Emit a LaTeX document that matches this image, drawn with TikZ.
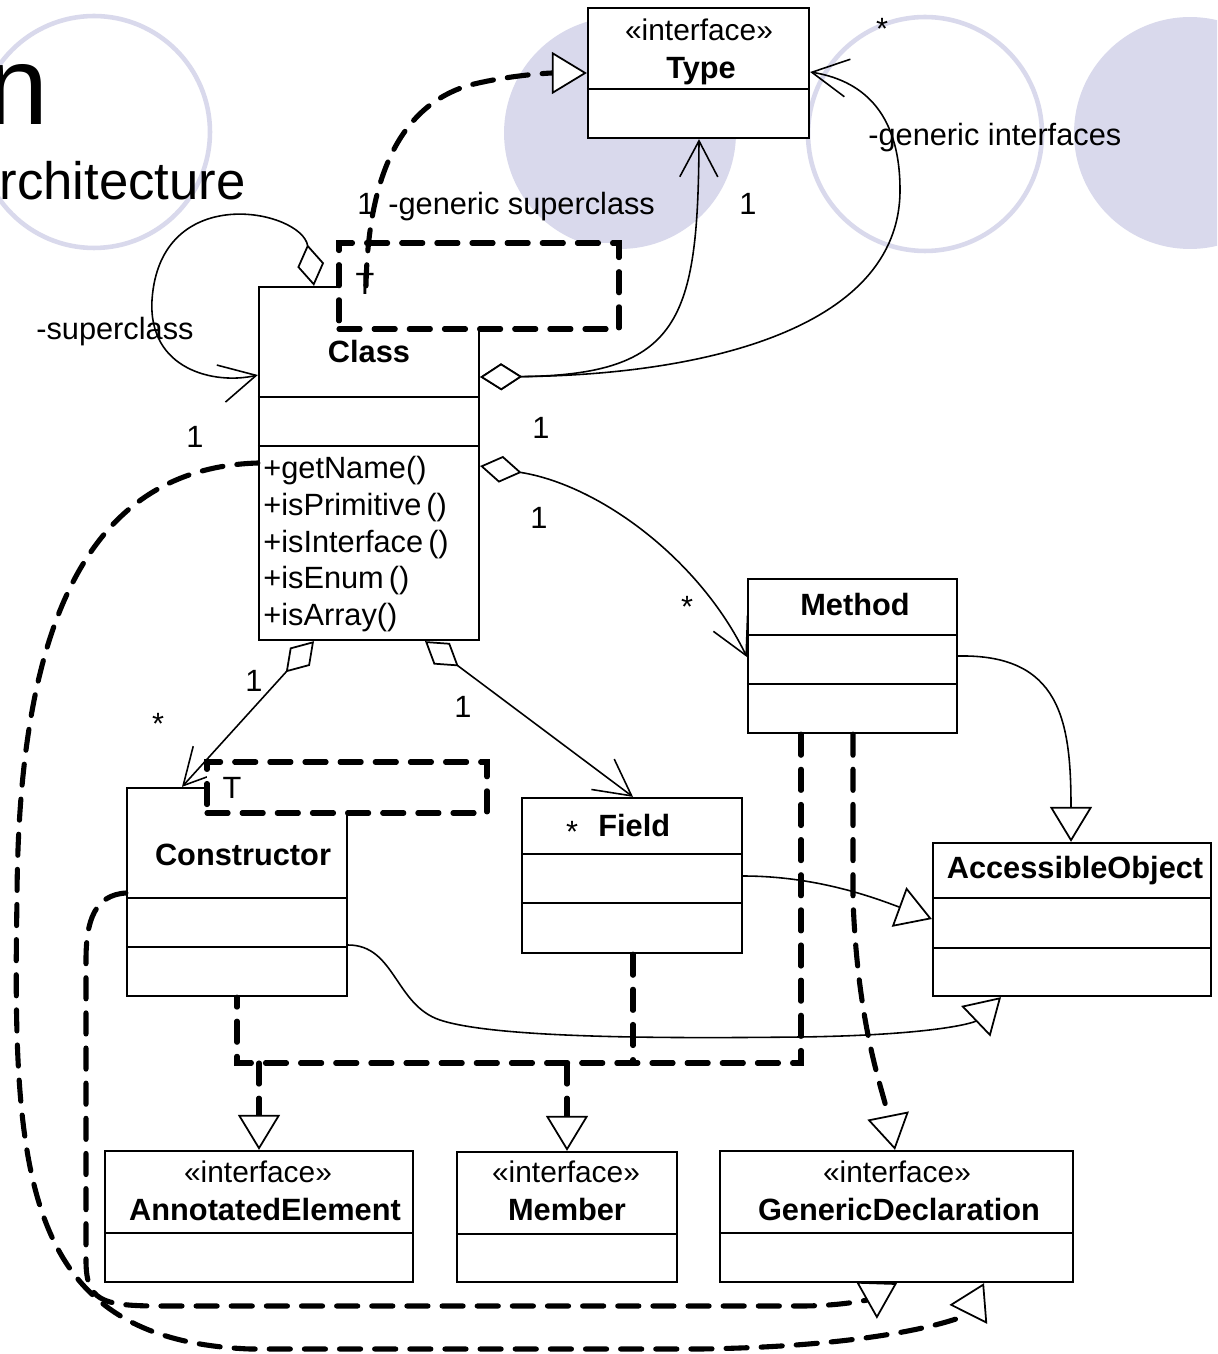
\documentclass[tikz,border=0pt]{standalone}
\usepackage{fontspec}
\setmainfont{Liberation Sans}
\usetikzlibrary{arrows.meta,fit}
\definecolor{lav}{RGB}{217,217,236}
\begin{document}
\begin{tikzpicture}[x=0.02cm,y=-0.02cm,
  box/.style={draw, fill=white, line width=1.3pt, inner sep=0pt},
  tmpl/.style={draw, fill=white, line width=2.9pt, dash pattern=on 12pt off 8pt, line cap=round, inner sep=0pt},
  txt/.style={font=\fontsize{17.5}{21}\selectfont, inner sep=0pt, anchor=base},
  txtw/.style={txt, anchor=base west},
  cname/.style={font=\fontsize{17.5}{21}\selectfont\bfseries, inner sep=0pt, anchor=base},
  stereo/.style={font=\fontsize{17}{20}\selectfont, inner sep=0pt, anchor=base},
  thinl/.style={line width=0.9pt},
  divl/.style={line width=1.3pt},
  dep/.style={line width=2.9pt, dash pattern=on 12pt off 8pt, line cap=round},
  gentip/.style={-{Triangle[length=0.7cm,width=0.84cm,fill=white,line width=1pt]}},
  aggassoc/.style={{Diamond[length=0.84cm,width=0.54cm,fill=white,line width=1pt]}-{Straight Barb[length=0.72cm,width=0.76cm]}},
]
\useasboundingbox (0,0) rectangle (1217,1354);
\clip (0,0) rectangle (1217,1354);
\fill[white] (0,0) rectangle (1217,1354);

% background circles
\draw[lav, line width=2.6pt] (94,132) circle[radius=2.32cm];
\fill[lav] (620,133) circle[radius=2.32cm];
\draw[lav, line width=2.6pt] (925,134) circle[radius=2.34cm];
\fill[lav] (1190,133) circle[radius=2.32cm];

% background title fragments
\node[font=\fontsize{63.5}{70}\selectfont, inner sep=0pt, anchor=base east] (bigN) at (49,125) {n};
\node[font=\fontsize{30}{36}\selectfont, inner sep=0pt, anchor=base east] (archi) at (246,200) {rchitecture};

% boxes
\node[box, fit={(588,8) (809,138)}] (type) {};
\draw[divl] (type.west |- 0,89) -- (type.east |- 0,89);
\node[stereo] (typeS) at (699,41) {«interface»};
\node[cname] (typeN) at (701,79) {Type};

\node[box, fit={(259,287) (479,640)}] (class) {};
\draw[divl] (class.west |- 0,397) -- (class.east |- 0,397);
\draw[divl] (class.west |- 0,446) -- (class.east |- 0,446);
\node[cname] (classN) at (369,362) {Class};
\node[txtw] (m1) at (263,478) {+getName()};
\node[txtw] (m2) at (263,515) {+isPrimitive\,()};
\node[txtw] (m3) at (263,552) {+isInterface\,()};
\node[txtw] (m4) at (263,588) {+isEnum\,()};
\node[txtw] (m5) at (263,625) {+isArray()};

\node[box, fit={(748,579) (957,733)}] (method) {};
\draw[divl] (method.west |- 0,635) -- (method.east |- 0,635);
\draw[divl] (method.west |- 0,684) -- (method.east |- 0,684);
\node[cname] (methodN) at (855,615) {Method};

\node[box, fit={(522,798) (742,953)}] (field) {};
\draw[divl] (field.west |- 0,854) -- (field.east |- 0,854);
\draw[divl] (field.west |- 0,903) -- (field.east |- 0,903);
\node[cname, anchor=base west] (fieldN) at (598,836) {Field};
\node[txt] (fieldStar) at (572,842) {*};

\node[box, fit={(933,843) (1211,996)}] (aobj) {};
\draw[divl] (aobj.west |- 0,898) -- (aobj.east |- 0,898);
\draw[divl] (aobj.west |- 0,948) -- (aobj.east |- 0,948);
\node[cname] (aobjN) at (1075,878) {AccessibleObject};

\node[box, fit={(127,788) (347,996)}] (ctor) {};
\draw[divl] (ctor.west |- 0,898) -- (ctor.east |- 0,898);
\draw[divl] (ctor.west |- 0,947) -- (ctor.east |- 0,947);
\node[cname] (ctorN) at (243,865) {Constructor};

\node[box, fit={(105,1151) (413,1282)}] (annot) {};
\draw[divl] (annot.west |- 0,1233) -- (annot.east |- 0,1233);
\node[stereo] (annotS) at (258,1182) {«interface»};
\node[cname] (annotN) at (265,1220) {AnnotatedElement};

\node[box, fit={(457,1152) (677,1282)}] (member) {};
\draw[divl] (member.west |- 0,1234) -- (member.east |- 0,1234);
\node[stereo] (memberS) at (566,1182) {«interface»};
\node[cname] (memberN) at (567,1220) {Member};

\node[box, fit={(720,1151) (1073,1282)}] (gendecl) {};
\draw[divl] (gendecl.west |- 0,1233) -- (gendecl.east |- 0,1233);
\node[stereo] (gendeclS) at (897,1182) {«interface»};
\node[cname] (gendeclN) at (899,1220) {GenericDeclaration};

% associations (aggregation)
\draw[thinl, aggassoc] (class.north -| 314,0) .. controls (302,210) and (160,180) .. (152,300) .. controls (148,370) and (215,385) .. (class.west |- 0,375);
\draw[thinl, aggassoc] (class.east |- 0,377) .. controls (680,375) and (698,320) .. (type.south -| 699,0);
\draw[thinl, aggassoc] (class.east |- 0,377) .. controls (700,375) and (900,330) .. (900,190) .. controls (900,110) and (860,80) .. (type.east |- 0,72);
\draw[thinl, aggassoc] (class.east |- 0,466) .. controls (600,485) and (700,560) .. (method.west |- 0,657);
\draw[thinl, aggassoc] (class.south -| 314,0) -- (ctor.north -| 182,0);
\draw[thinl, aggassoc] (class.south -| 425,0) -- (field.north -| 633,0);

% generalizations
\draw[thinl, gentip] (method.east |- 0,656) .. controls (1060,654) and (1071,720) .. (aobj.north -| 1071,0);
\draw[thinl, gentip] (field.east |- 0,876) .. controls (820,876) and (880,900) .. (aobj.west |- 0,919);
\draw[thinl, gentip] (ctor.east |- 0,945) .. controls (395,945) and (395,1005) .. (440,1020) .. controls (500,1040) and (700,1038) .. (800,1037) .. controls (940,1035) and (975,1022) .. (aobj.south -| 1001,0);

% realizations
\coordinate (busM) at (801,1063);
\coordinate (busC) at (237,1063);
\coordinate (busF) at (633,1063);
\coordinate (busA) at (259,1063);
\coordinate (busB) at (567,1063);
\draw[dep] (method.south -| 801,0) -- (busM) -- (busC) -- (ctor.south -| 237,0);
\draw[dep] (field.south -| 633,0) -- (busF);
\draw[dep, gentip] (busA) -- (annot.north -| 259,0);
\draw[dep, gentip] (busB) -- (member.north -| 567,0);
\draw[dep, gentip] (method.south -| 853,0) -- (853,900) .. controls (858,1030) and (883,1090) .. (gendecl.north -| 895,0);
\draw[dep, gentip] (class.west |- 0,463) .. controls (90,468) and (18,620) .. (17,900) .. controls (12,1180) and (25,1340) .. (250,1349) -- (700,1349) .. controls (900,1346) and (968,1315) .. (gendecl.south -| 984,0);
\draw[dep, gentip] (ctor.west |- 0,893) .. controls (95,895) and (86,920) .. (86,960) -- (86,1260) .. controls (86,1300) and (100,1306) .. (160,1306) -- (800,1306) .. controls (840,1306) and (867,1300) .. (gendecl.south -| 897,0);

% template parameter boxes
\node[tmpl, fit={(339,243) (619,329)}] (classT) {};
\node[txt] (classTT) at (365,295) {T};
\node[tmpl, fit={(207,762) (487,813)}] (ctorT) {};
\node[txt] (ctorTT) at (232,798) {T};

\draw[dep, gentip] (class.north -| 366,0) .. controls (368,180) and (398,106) .. (470,85) .. controls (510,75) and (550,73) .. (type.west |- 0,73);

% labels
\node[txtw] (lSuper) at (36,340) {-superclass};
\node[txtw] (lGenSup) at (388,215) {-generic superclass};
\node[txtw] (lGenSup1) at (357,215) {1};
\node[txtw] (lGenInt) at (868,146) {-generic interfaces};
\node[txt] (lType1) at (748,215) {1};
\node[txt] (lTypeStar) at (882,40) {*};
\node[txt] (lClass1a) at (541,438) {1};
\node[txt] (lSuper1) at (195,447) {1};
\node[txt] (lMeth1) at (539,528) {1};
\node[txt] (lMethStar) at (687,617) {*};
\node[txt] (lCtor1) at (254,691) {1};
\node[txt] (lCtorStar) at (158,734) {*};
\node[txt] (lField1) at (463,717) {1};
\end{tikzpicture}
\end{document}
